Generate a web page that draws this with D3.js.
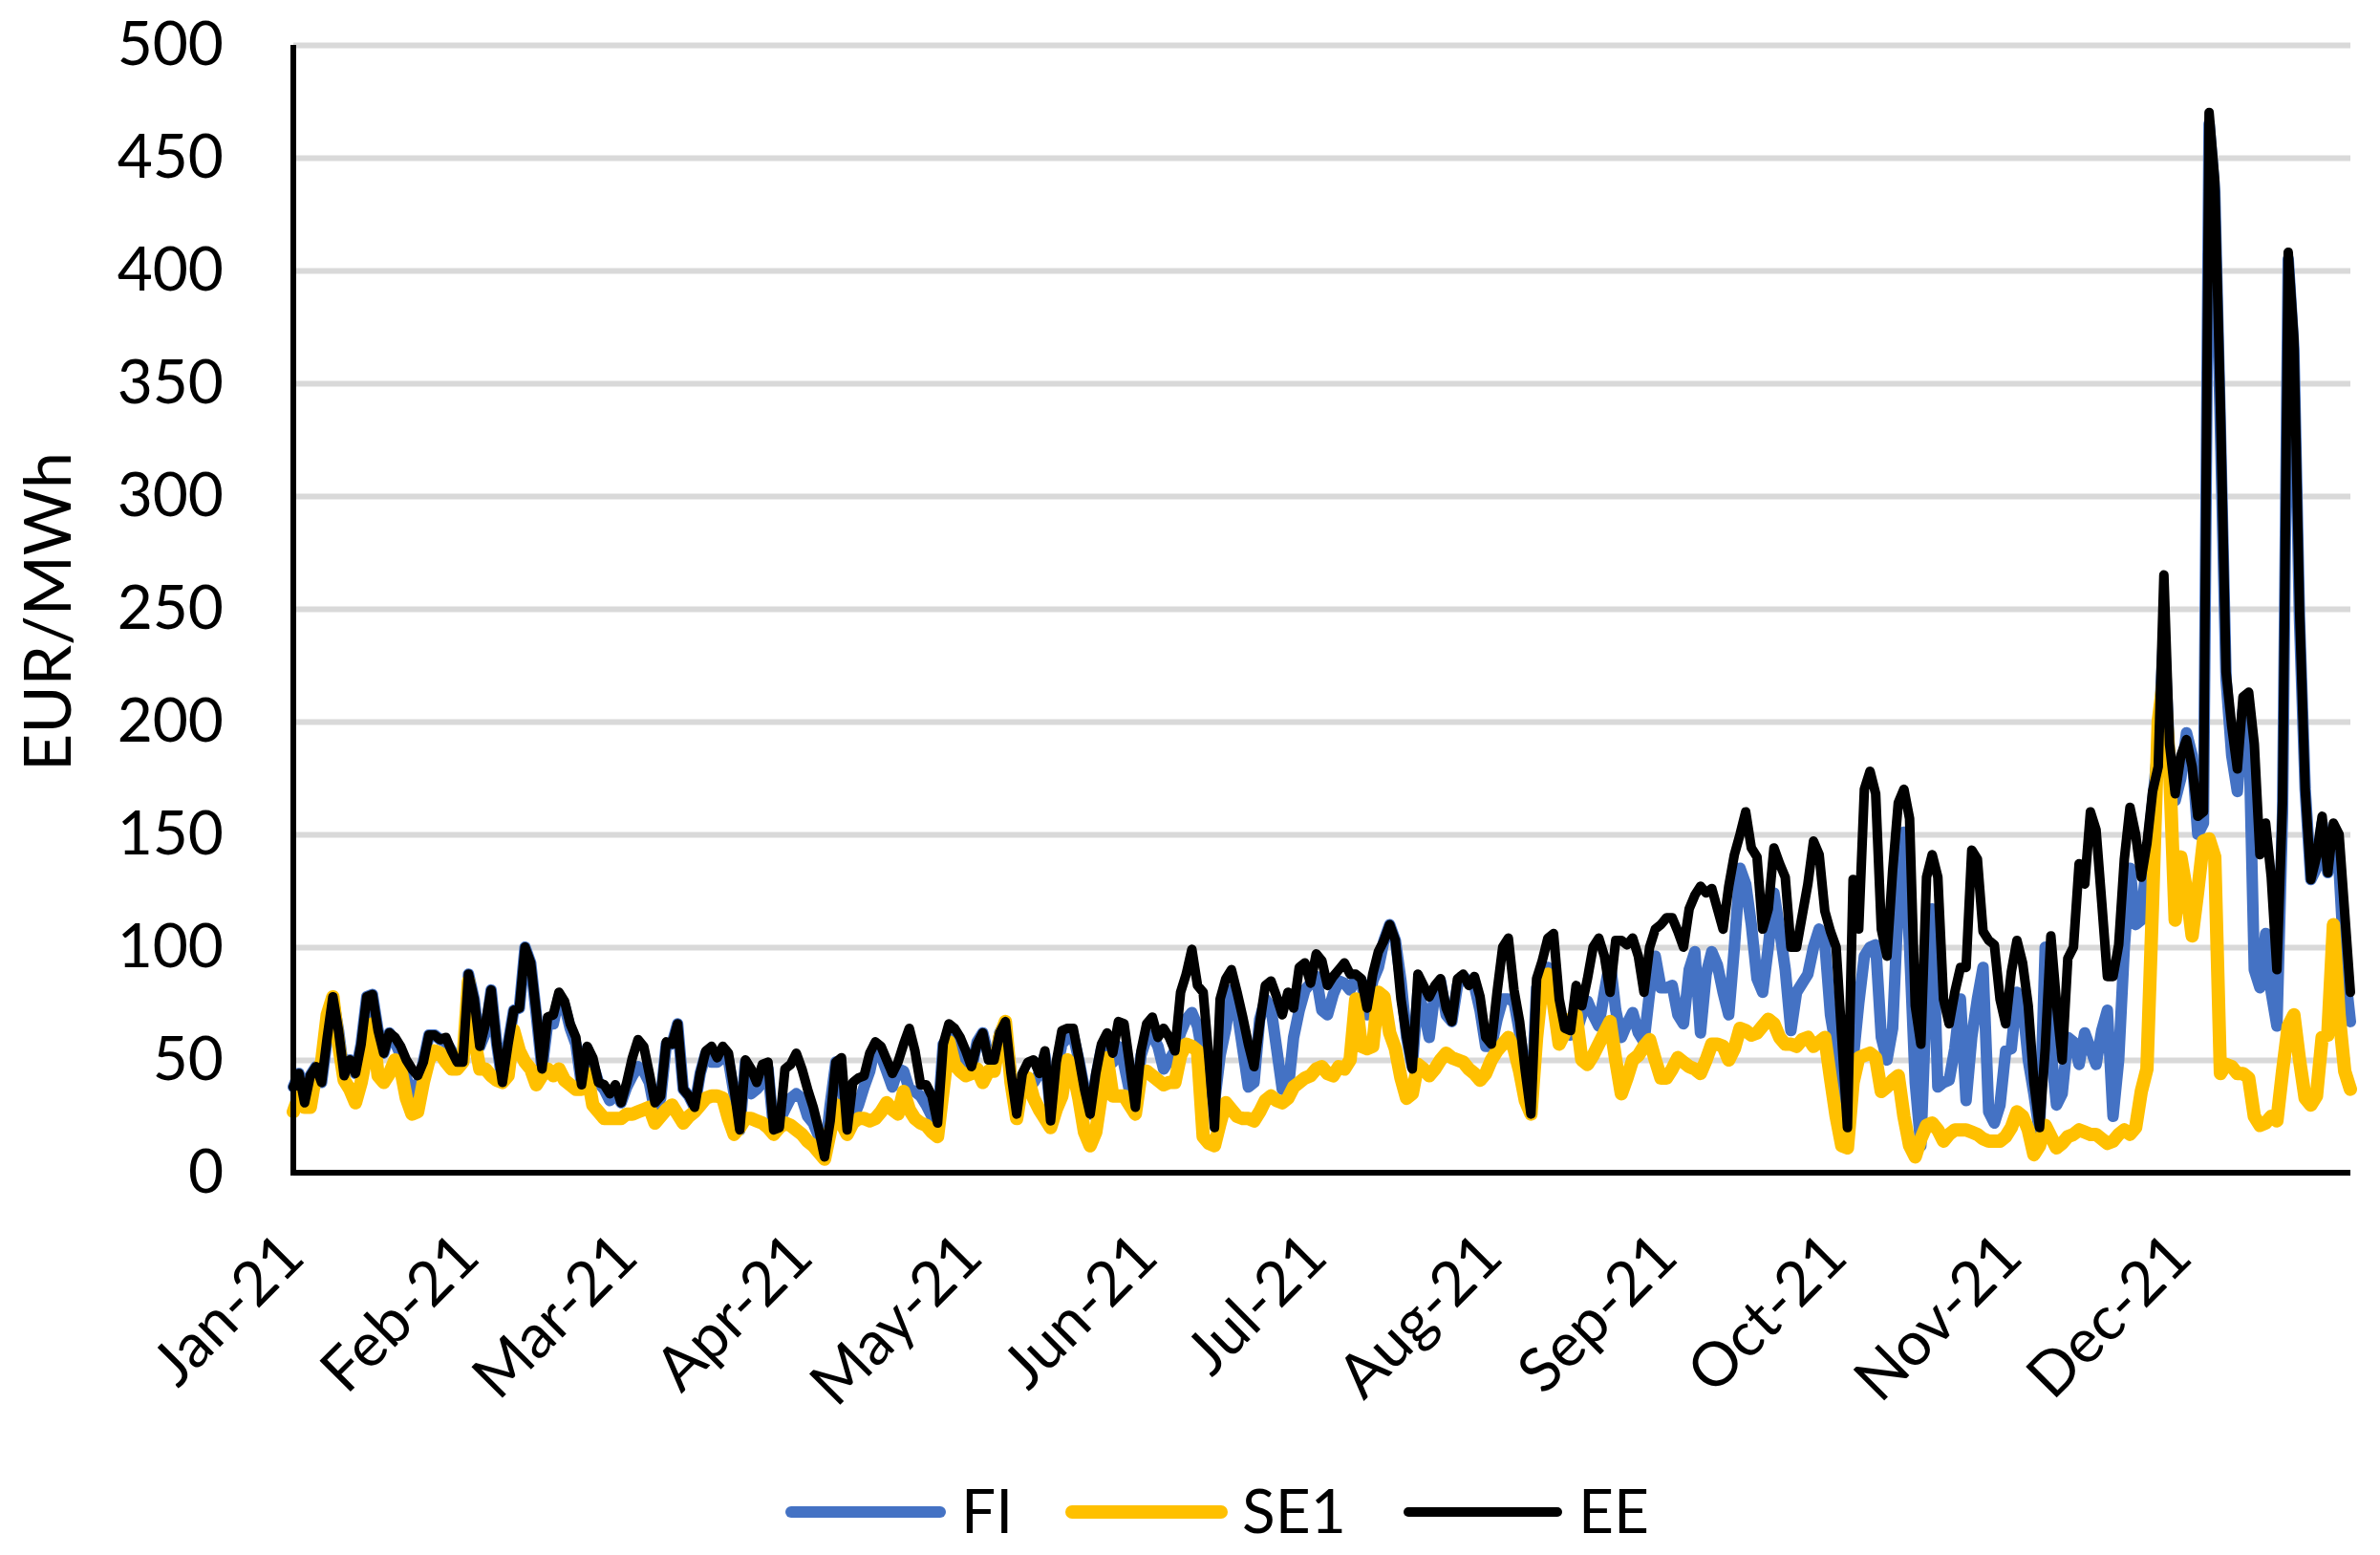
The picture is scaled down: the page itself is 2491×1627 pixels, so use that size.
<!DOCTYPE html>
<html>
<head>
<meta charset="utf-8">
<script src="https://cdn.jsdelivr.net/npm/d3@7"></script>
<style>
  body { margin: 0; background: #ffffff; }
  text { font-family: "Lato", "Open Sans", sans-serif; fill: #000000; }
</style>
</head>
<body>
<script>
// Daily day-ahead prices 2021, EUR/MWh (Jan..Dec, one line per month)
var fiPrices = [
  38,44,31,43,47,40,60,78,63,43,50,44,57,78,79,63,53,62,58,52,42,35,38,49,61,61,59,58,54,49,49,
  88,77,56,62,81,57,40,57,72,73,100,93,70,46,66,66,78,74,64,57,39,55,48,40,37,32,36,31,
  38,43,47,45,40,27,33,57,57,66,37,34,29,44,53,49,49,51,50,35,19,49,35,37,40,46,19,23,28,33,35,
  33,25,22,16,7,30,49,40,19,24,30,38,45,57,52,45,38,46,45,37,36,34,30,25,22,57,60,58,55,48,
  46,58,62,52,48,62,67,44,26,43,42,40,44,52,27,45,57,60,61,50,37,26,42,55,53,49,56,48,36,29,52,
  60,61,56,46,50,54,62,68,71,65,51,40,31,52,64,81,72,55,38,40,68,77,73,55,37,36,60,72,81,84,
  87,72,70,79,85,84,81,86,85,70,85,91,103,110,103,85,60,47,80,72,60,80,85,70,67,83,87,85,83,72,56,
  56,68,77,77,76,62,45,26,82,88,91,80,67,63,61,62,70,76,70,65,80,94,72,60,66,71,62,58,80,96,82,
  82,83,70,66,90,98,62,88,98,92,80,70,100,135,128,110,86,80,100,124,108,90,63,80,84,88,100,108,102,70,
  55,32,20,50,75,96,100,101,60,50,64,120,151,100,40,12,80,117,38,40,41,55,77,32,60,77,91,27,22,30,54,
  55,80,75,50,35,18,100,55,30,35,60,58,48,62,55,48,63,72,25,50,100,135,110,112,140,164,190,240,185,165,
  175,195,185,150,155,465,435,330,219,185,169,205,200,90,82,106,80,65,160,405,365,245,170,130,135,155,133,150,135,90,67
];

var se1Prices = [
  27,34,29,29,44,49,70,78,57,41,37,31,40,53,66,43,40,44,50,46,33,26,27,40,50,54,53,49,46,46,49,
  85,60,46,46,43,41,40,43,63,54,49,46,39,43,46,43,46,41,39,37,37,44,30,27,24,24,24,24,
  26,26,27,28,29,22,25,28,30,26,22,25,27,30,33,34,34,33,24,17,20,24,24,23,22,20,17,20,22,21,19,
  17,14,12,9,6,18,30,22,17,22,24,24,23,24,27,31,28,26,36,28,24,22,21,18,16,37,58,48,45,43,
  44,46,40,45,45,60,67,40,24,40,42,33,28,24,20,28,34,50,45,33,18,12,18,35,51,34,34,34,30,26,44,
  45,43,41,39,40,40,52,57,56,54,16,13,12,22,31,28,25,24,24,23,27,32,34,32,31,33,38,40,42,43,
  46,47,44,43,47,46,50,77,56,55,56,80,78,62,55,42,33,35,48,46,43,46,50,53,51,50,49,46,44,41,44,
  50,54,57,60,55,45,32,26,60,84,88,75,57,62,68,70,50,48,52,57,62,67,50,35,42,50,52,56,59,50,42,
  42,46,51,49,47,46,44,50,57,57,56,50,55,64,63,61,62,65,68,66,60,57,57,56,59,60,56,58,60,42,
  25,12,11,40,51,52,53,51,36,38,41,43,25,12,7,15,21,22,19,14,17,19,19,19,18,17,15,14,14,14,16,
  20,27,25,19,8,12,21,16,11,13,16,17,19,18,17,17,15,13,14,17,19,17,20,36,46,120,200,220,180,112,
  140,125,105,125,147,148,140,44,48,47,44,44,42,25,21,22,25,23,45,65,70,50,33,30,34,60,61,110,70,45,37
];

var eePrices = [
  38,44,31,43,47,40,60,78,63,43,50,44,57,78,79,63,53,62,60,56,50,46,43,49,61,61,59,60,54,49,49,
  88,77,56,66,81,57,40,57,72,73,100,93,71,46,69,70,80,76,66,60,39,56,51,40,39,35,39,31,
  40,51,59,56,44,31,34,58,57,66,37,34,29,44,54,56,51,56,53,37,19,50,46,40,48,49,19,20,46,48,53,
  46,37,29,19,7,23,49,51,19,40,42,43,53,58,56,50,44,49,57,64,54,39,39,34,22,57,66,64,60,54,
  47,57,62,50,50,62,67,44,26,44,49,50,44,54,23,49,63,64,64,51,37,26,44,57,62,53,67,66,48,29,54,
  66,69,60,64,60,54,80,88,99,83,80,51,20,77,86,90,80,69,57,47,66,83,85,78,70,80,73,91,93,84,
  97,94,83,87,90,93,88,88,86,73,88,98,103,110,103,77,60,46,88,83,78,83,86,73,67,86,88,83,87,78,60,
  57,80,100,104,81,67,45,26,86,94,104,106,77,64,63,83,74,86,100,104,96,80,103,103,101,104,96,80,100,108,110,
  113,113,107,100,117,123,127,124,126,117,108,127,141,150,160,144,140,108,117,144,137,131,100,100,114,128,147,141,116,107,
  100,60,20,130,108,170,178,168,108,96,134,164,170,157,74,57,131,141,131,77,66,80,91,91,143,139,107,103,101,77,66,
  89,103,93,74,40,20,55,105,75,50,95,100,137,128,160,152,120,87,87,101,139,162,150,131,146,169,180,265,190,168,
  185,192,180,158,160,470,440,340,222,198,179,211,213,190,141,155,131,90,165,408,370,250,170,130,140,158,133,155,150,115,80
];

var seriesNames = ["FI", "SE1", "EE"];
var monthLabels = ["Jan-21","Feb-21","Mar-21","Apr-21","May-21","Jun-21",
                   "Jul-21","Aug-21","Sep-21","Oct-21","Nov-21","Dec-21"];
var yTicks = [0, 50, 100, 150, 200, 250, 300, 350, 400, 450, 500];

window.onload = function(){
    var w = 2491, h = 1627;
    var left = 307, right = 2460, top = 47, bottom = 1227;

    var svg = d3.select("body")
      .append("svg")
      .attr("width", w)
      .attr("height", h)
      .style("background-color", "#ffffff");

    var start = new Date(2021, 0, 1);

    var x = d3.scaleTime()
      .domain([start, new Date(2021, 11, 31)])
      .range([left, right]);

    var y = d3.scaleLinear()
      .domain([0, 500])
      .range([bottom, top]);

    // gridlines
    var grid = svg.append("g")
      .attr("transform", "translate(" + left + ",0)")
      .call(d3.axisLeft(y).tickValues(yTicks).tickSize(-(right - left)).tickFormat(""));
    grid.select(".domain").remove();
    grid.selectAll("line")
      .attr("stroke", "#d9d9d9")
      .attr("stroke-width", 6);

    // y tick labels
    var yAxis = svg.append("g")
      .attr("transform", "translate(" + left + ",0)")
      .call(d3.axisLeft(y).tickValues(yTicks).tickSize(0).tickPadding(73));
    yAxis.select(".domain").remove();
    yAxis.selectAll("text")
      .style("font-family", "Lato")
      .style("font-size", "64px")
      .attr("fill", "#000");

    // x tick labels, rotated like the original
    var months = d3.timeMonth.range(start, new Date(2022, 0, 1));
    var xAxis = svg.append("g")
      .attr("transform", "translate(0," + bottom + ")")
      .call(d3.axisBottom(x).tickValues(months).tickSize(0)
        .tickFormat(function(d, i){ return monthLabels[i]; }));
    xAxis.select(".domain").remove();
    xAxis.selectAll("text")
      .attr("x", 0)
      .attr("y", 0)
      .attr("dy", 0)
      .attr("transform", "translate(14,91) rotate(-45)")
      .style("text-anchor", "end")
      .style("font-family", "Lato")
      .style("font-size", "64px")
      .attr("fill", "#000");

    // series lines
    var series = [
      { name: seriesNames[0], values: fiPrices,  color: "#4472c4", width: 12 },
      { name: seriesNames[1], values: se1Prices, color: "#ffc000", width: 14 },
      { name: seriesNames[2], values: eePrices,  color: "#000000", width: 10 }
    ];

    var line = d3.line()
      .x(function(d, i){ return x(d3.timeDay.offset(start, i)); })
      .y(function(d){ return y(d); });

    svg.selectAll(".series")
      .data(series)
      .enter()
      .append("path")
      .attr("class", "series")
      .attr("d", function(d){ return line(d.values); })
      .attr("fill", "none")
      .attr("stroke", function(d){ return d.color; })
      .attr("stroke-width", function(d){ return d.width; })
      .attr("stroke-linejoin", "round")
      .attr("stroke-linecap", "round");

    // axis lines
    svg.append("line")
      .attr("x1", left).attr("x2", left)
      .attr("y1", top).attr("y2", bottom + 3)
      .attr("stroke", "#000").attr("stroke-width", 6);
    svg.append("line")
      .attr("x1", left - 3).attr("x2", right)
      .attr("y1", bottom).attr("y2", bottom)
      .attr("stroke", "#000").attr("stroke-width", 6);

    // y axis title
    svg.append("text")
      .attr("transform", "translate(74,640) rotate(-90)")
      .attr("text-anchor", "middle")
      .style("font-size", "68px")
      .text("EUR/MWh");

    // legend
    var legendX = [822, 1116, 1468];
    var legend = svg.selectAll(".legend")
      .data(series)
      .enter()
      .append("g")
      .attr("class", "legend")
      .attr("transform", function(d, i){ return "translate(" + legendX[i] + ",1582)"; });

    legend.append("line")
      .attr("x1", 6).attr("x2", 162)
      .attr("y1", 0).attr("y2", 0)
      .attr("stroke", function(d){ return d.color; })
      .attr("stroke-width", function(d){ return d.width; })
      .attr("stroke-linecap", "round");

    legend.append("text")
      .attr("x", 184)
      .attr("y", 22)
      .style("font-size", "64px")
      .text(function(d){ return d.name; });
};
</script>
</body>
</html>
